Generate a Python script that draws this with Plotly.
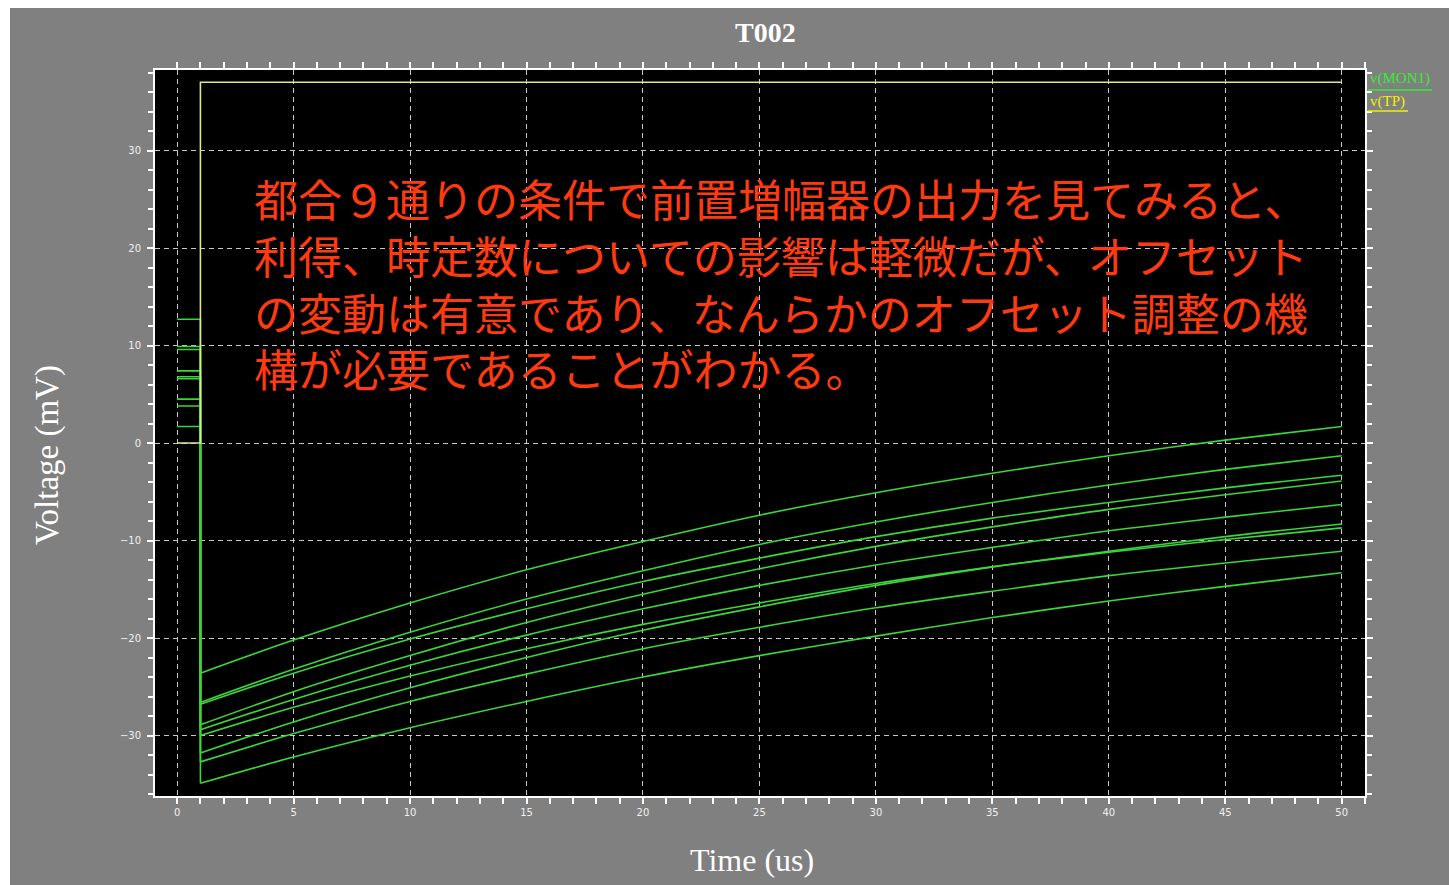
import plotly.graph_objects as go

# ---- data -------------------------------------------------------------
# time axis of the transient (us); the step happens at t = 1 us
time_us = [1, 5, 10, 15, 20, 25, 30, 35, 40, 45, 50]

# v(MON1) level before the step (mV), one per condition
mon1_before_mv = [12.7, 9.9, 9.6, 7.4, 6.8, 6.6, 4.5, 3.8, 1.7]

# v(MON1) after the step (mV), sampled at time_us, one row per condition
mon1_run1 = [-23.6, -20.2, -16.4, -13.0, -10.1, -7.4, -5.1, -3.1, -1.3, 0.3, 1.7]
mon1_run2 = [-26.6, -23.2, -19.4, -16.0, -13.1, -10.4, -8.1, -6.1, -4.3, -2.7, -1.3]
mon1_run3 = [-26.8, -23.6, -20.1, -17.0, -14.2, -11.8, -9.6, -7.7, -6.1, -4.6, -3.3]
mon1_run4 = [-28.9, -25.5, -21.8, -18.4, -15.5, -12.9, -10.6, -8.6, -6.8, -5.3, -3.9]
mon1_run5 = [-29.4, -26.3, -22.8, -19.7, -17.0, -14.6, -12.5, -10.7, -9.0, -7.6, -6.3]
mon1_run6 = [-30.0, -27.1, -23.9, -21.1, -18.6, -16.4, -14.4, -12.7, -11.2, -9.9, -8.7]
mon1_run7 = [-31.8, -28.6, -25.1, -22.0, -19.2, -16.8, -14.6, -12.7, -11.1, -9.6, -8.3]
mon1_run8 = [-32.7, -29.8, -26.5, -23.7, -21.1, -18.9, -16.9, -15.2, -13.6, -12.3, -11.1]
mon1_run9 = [-34.9, -32.2, -29.2, -26.5, -24.0, -21.8, -19.8, -17.9, -16.2, -14.7, -13.3]
mon1_runs = [mon1_run1, mon1_run2, mon1_run3, mon1_run4, mon1_run5,
             mon1_run6, mon1_run7, mon1_run8, mon1_run9]

# test pulse v(TP): 0 mV, then a step to 37 mV at t = 1 us
tp_time_us = [0, 1, 1, 50]
tp_mv = [0, 0, 37, 37]

x_ticks = [0, 5, 10, 15, 20, 25, 30, 35, 40, 45, 50]
y_ticks = [-30, -20, -10, 0, 10, 20, 30]

note_lines = [
    "都合９通りの条件で前置増幅器の出力を見てみると、",
    "利得、時定数についての影響は軽微だが、オフセット",
    "の変動は有意であり、なんらかのオフセット調整の機",
    "構が必要であることがわかる。",
]

# ---- layout geometry (pixels of the 1449x885 page) ---------------------
W, H = 1449, 885
PL, PR, PT, PB = 155, 1365, 70, 796


def px(x):
    return (x - PL) / (PR - PL)


def py(y):
    return (PB - y) / (PB - PT)


GREEN = "#3ad63a"
YELLOW = "#e4e490"
GRID = "#c8c8c8"

fig = go.Figure()

for before, run in zip(mon1_before_mv, mon1_runs):
    # level before the step and the drop at t = 1 us
    fig.add_trace(go.Scatter(
        x=[0, time_us[0], time_us[0]],
        y=[before, before, run[0]],
        mode="lines", line=dict(color=GREEN, width=1.6),
        showlegend=False, hoverinfo="skip",
    ))
    # recovery after the step
    fig.add_trace(go.Scatter(
        x=time_us, y=run,
        mode="lines", line=dict(color=GREEN, width=1.6, shape="spline", smoothing=0.8),
        showlegend=False, hoverinfo="skip",
    ))

fig.add_trace(go.Scatter(
    x=tp_time_us, y=tp_mv, mode="lines",
    line=dict(color=YELLOW, width=1.6),
    showlegend=False, hoverinfo="skip",
))

axis_common = dict(
    showline=True, linecolor="white", linewidth=2, mirror="ticks",
    ticks="outside", ticklen=6, tickwidth=1.5, tickcolor="white",
    showgrid=True, gridcolor=GRID, gridwidth=1, griddash="5px,4px",
    zeroline=False,
    tickfont=dict(family="DejaVu Sans", size=10, color="#f0f0f0"),
)

fig.update_xaxes(
    range=[-0.95, 51.0], tickvals=x_ticks,
    minor=dict(dtick=1, ticks="outside", ticklen=6, tickcolor="white",
               tickwidth=1.5, showgrid=False),
    **axis_common,
)
fig.update_yaxes(
    range=[-36.2, 38.26], tickvals=y_ticks,
    minor=dict(dtick=2, ticks="outside", ticklen=5, tickcolor="white",
               tickwidth=1.5, showgrid=False),
    ticklabelstandoff=4,
    **axis_common,
)

annotations = [
    # chart title
    dict(x=px(765), y=py(33), text="<b>T002</b>",
         font=dict(family="Liberation Serif", size=28, color="white")),
    # axis titles
    dict(x=px(752), y=py(860), text="Time (us)",
         font=dict(family="Liberation Serif", size=32, color="white")),
    dict(x=px(47), y=py(455), text="Voltage (mV)", textangle=-90,
         font=dict(family="Liberation Serif", size=33, color="white")),
    # signal labels
    dict(x=px(1368), y=py(79), text="v(MON1)", xanchor="left",
         font=dict(family="Liberation Serif", size=15, color="#33ee33")),
    dict(x=px(1368), y=py(101), text="v(TP)", xanchor="left",
         font=dict(family="Liberation Serif", size=15, color="#f0f000")),
]

# commentary, one annotation per line
line_centres = [198, 255, 312, 368]
for text, yc in zip(note_lines, line_centres):
    annotations.append(dict(
        x=px(252), y=py(yc), xanchor="left", text=text,
        font=dict(family="Noto Sans CJK JP", size=44, color="#ff3a10"),
    ))

for a in annotations:
    a.setdefault("xanchor", "center")
    a.setdefault("yanchor", "middle")
    a.update(xref="paper", yref="paper", showarrow=False)

shapes = [
    # white page margins around the grey panel
    dict(type="rect", xref="paper", yref="paper",
         x0=px(-5), x1=px(W + 5), y0=py(8), y1=py(-5),
         fillcolor="white", line=dict(width=0), layer="below"),
    dict(type="rect", xref="paper", yref="paper",
         x0=px(-5), x1=px(10), y0=py(H + 5), y1=py(-5),
         fillcolor="white", line=dict(width=0), layer="below"),
    # underlines of the signal labels
    dict(type="line", xref="paper", yref="paper",
         x0=px(1368), x1=px(1432), y0=py(90), y1=py(90),
         line=dict(color="#33ee33", width=1.5)),
    dict(type="line", xref="paper", yref="paper",
         x0=px(1368), x1=px(1408), y0=py(111), y1=py(111),
         line=dict(color="#f0f000", width=1.5)),
]

fig.update_layout(
    width=W, height=H,
    margin=dict(l=PL, r=W - PR, t=PT, b=H - PB, pad=0),
    paper_bgcolor="#808080",
    plot_bgcolor="black",
    annotations=annotations,
    shapes=shapes,
    showlegend=False,
)

fig.write_html("out.html", config={"displayModeBar": False})
